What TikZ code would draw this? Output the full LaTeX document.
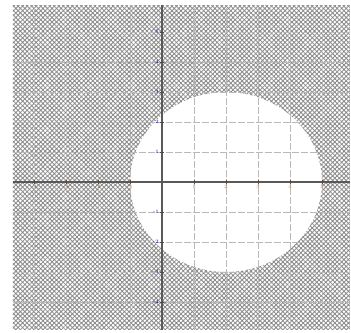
\documentclass[tikz,border=0pt]{standalone}
\usepackage{tikz}
\usetikzlibrary{patterns.meta}
\tikzset{
  gridline/.style={gray!35, line width=0.5pt, dash pattern=on 7pt off 2pt},
  hatched/.style={pattern={Hatch[angle=45,distance=3.2pt,line width=0.85pt]}, pattern color=gray!90},
  axisline/.style={black!65, line width=1.3pt},
  xlab/.style={font=\fontsize{5}{5}\selectfont, text=orange!75!black, inner sep=0.5pt},
  ylab/.style={font=\fontsize{5}{5}\selectfont, text=blue!60!black, inner sep=0.5pt},
}
\begin{document}
\begin{tikzpicture}[x=32pt, y=30pt]
  \useasboundingbox[fill=white] (-5.0625,-5) rectangle (5.906,6.067);
  % grid
  \foreach \k in {-4,...,5} {
    \draw[gridline] (\k,-4.93) -- (\k,5.9);
    \draw[gridline] (-4.66,\k) -- (5.88,\k);
  }
  % region outside the disc
  \fill[hatched, even odd rule] (-4.66,-4.93) rectangle (5.88,5.9)
    (2,0) ellipse [x radius=3, y radius=3];
  % grid again, faint over the hatching
  \foreach \k in {-4,...,5} {
    \draw[gridline, gray!55] (\k,-4.93) -- (\k,5.9);
    \draw[gridline, gray!55] (-4.66,\k) -- (5.88,\k);
  }
  % axes
  \draw[axisline] (-4.66,0) -- (5.88,0);
  \draw[axisline] (0,-4.93) -- (0,5.9);
  % tick labels
  \foreach \x in {-4,-3,-2,-1,1,2,3,4,5} {
    \draw[black!70, line width=0.4pt] (\x,0.06) -- (\x,-0.06);
    \node[xlab, below] (xl\x) at (\x,-0.08) {\x};
  }
  \foreach \y in {-4,-3,-2,-1,1,2,3,4,5} {
    \draw[black!70, line width=0.4pt] (0.06,\y) -- (-0.06,\y);
    \node[ylab, left] (yl\y) at (-0.08,\y) {\y};
  }
\end{tikzpicture}
\end{document}
